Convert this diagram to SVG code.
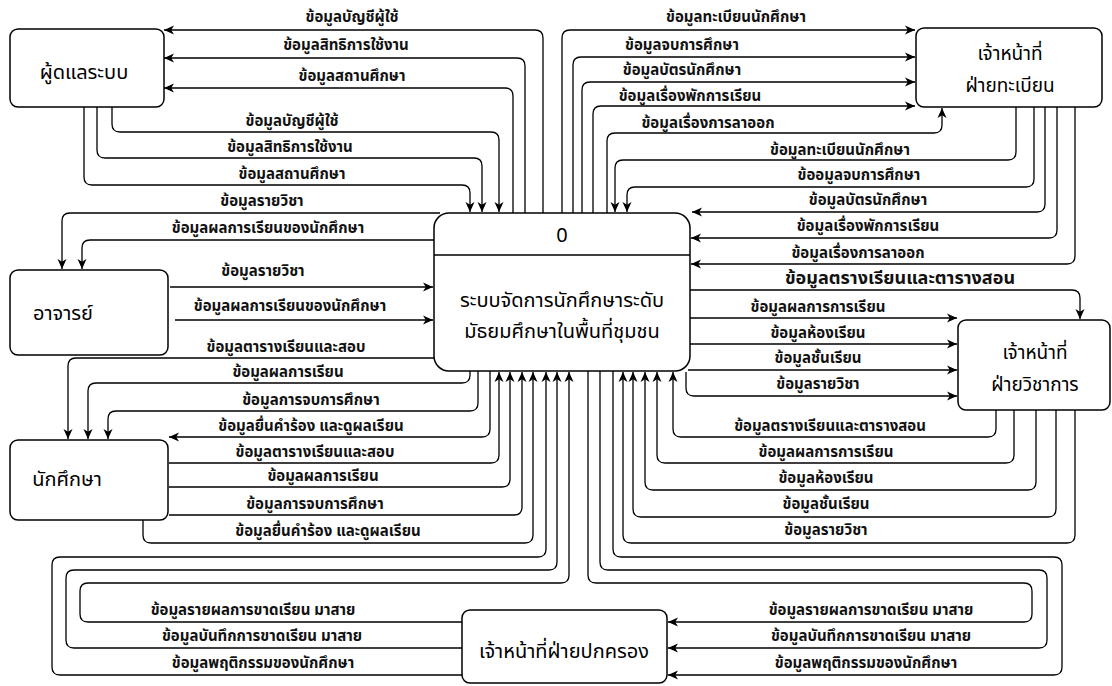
<svg xmlns="http://www.w3.org/2000/svg" width="1112" height="686" viewBox="0 0 1112 686">
<defs>
<marker id="ar" markerUnits="userSpaceOnUse" markerWidth="11" markerHeight="11" refX="10" refY="5.5" orient="auto">
<path d="M0,1 L10,5.5 L0,10 L2.8,5.5 z" fill="#000"/>
</marker>
<style>
.box{fill:#fff;stroke:#000;stroke-width:1.5}
.ln{fill:none;stroke:#000;stroke-width:1.3}
.ah{marker-end:url(#ar)}
.lbl{font-family:"Noto Sans Thai","Noto Sans","DejaVu Sans",sans-serif;font-size:15px;font-weight:bold;text-anchor:middle;fill:#111}
.big{font-size:18px}
.nt{font-family:"Noto Sans Thai","Noto Sans","DejaVu Sans",sans-serif;font-size:20px;text-anchor:middle;fill:#000}
.nt2{font-size:19px}
</style>
</defs>
<rect width="1112" height="686" fill="#fff"/>

<g id="connectors">
<path class="ln ah" d="M543,213 V38 Q543,30 535,30 H164"/>
<path class="ln ah" d="M525,213 V66 Q525,58 517,58 H164"/>
<path class="ln ah" d="M513,213 V96 Q513,88 505,88 H164"/>
<path class="ln ah" d="M112,107 V124 Q112,132 120,132 H491 Q499,132 499,140 V212"/>
<path class="ln ah" d="M97,107 V150 Q97,158 105,158 H474 Q482,158 482,166 V212"/>
<path class="ln ah" d="M84,107 V177 Q84,185 92,185 H462 Q470,185 470,193 V212"/>
<path class="ln ah" d="M440,213 H70 Q62,213 62,221 V269"/>
<path class="ln ah" d="M434,240 H90 Q82,240 82,248 V269"/>
<path class="ln ah" d="M170,287 H433"/>
<path class="ln ah" d="M175,320 H433"/>
<path class="ln ah" d="M434,358 H76 Q68,358 68,366 V439"/>
<path class="ln ah" d="M470,371 V375 Q470,383 462,383 H96 Q88,383 88,391 V439"/>
<path class="ln ah" d="M478,371 V403 Q478,411 470,411 H116 Q108,411 108,419 V439"/>
<path class="ln ah" d="M490,371 V429 Q490,437 482,437 H169"/>
<path class="ln ah" d="M169,463 H491 Q499,463 499,455 V372"/>
<path class="ln ah" d="M169,487 H502 Q510,487 510,479 V372"/>
<path class="ln ah" d="M169,515 H514 Q522,515 522,507 V372"/>
<path class="ln ah" d="M143,520 V535 Q143,543 151,543 H525 Q533,543 533,535 V372"/>
<path class="ln ah" d="M462,622 H88 Q80,622 80,614 V591 Q80,583 88,583 H561 Q569,583 569,575 V372"/>
<path class="ln ah" d="M462,648 H74 Q66,648 66,640 V578 Q66,570 74,570 H549 Q557,570 557,562 V372"/>
<path class="ln ah" d="M462,675 H60 Q52,675 52,667 V565 Q52,557 60,557 H538 Q546,557 546,549 V372"/>
<path class="ln ah" d="M588,371 V575 Q588,583 596,583 H1024 Q1032,583 1032,591 V614 Q1032,622 1024,622 H668"/>
<path class="ln ah" d="M600,371 V562 Q600,570 608,570 H1039 Q1047,570 1047,578 V640 Q1047,648 1039,648 H668"/>
<path class="ln ah" d="M613,371 V549 Q613,557 621,557 H1054 Q1062,557 1062,565 V667 Q1062,675 1054,675 H668"/>
<path class="ln ah" d="M996,410 V429 Q996,437 988,437 H681 Q673,437 673,429 V372"/>
<path class="ln ah" d="M1014,410 V455 Q1014,463 1006,463 H665 Q657,463 657,455 V372"/>
<path class="ln ah" d="M1036,410 V482 Q1036,490 1028,490 H653 Q645,490 645,482 V372"/>
<path class="ln ah" d="M1056,410 V509 Q1056,517 1048,517 H641 Q633,517 633,509 V372"/>
<path class="ln ah" d="M1075,410 V535 Q1075,543 1067,543 H631 Q623,543 623,535 V372"/>
<path class="ln ah" d="M690,290 H1072 Q1080,290 1080,298 V319"/>
<path class="ln ah" d="M690,318 H957"/>
<path class="ln ah" d="M690,344 H957"/>
<path class="ln ah" d="M688,370 H957"/>
<path class="ln ah" d="M686,372 V388 Q686,396 694,396 H957"/>
<path class="ln ah" d="M562,213 V38 Q562,30 570,30 H915"/>
<path class="ln ah" d="M573,213 V65 Q573,57 581,57 H915"/>
<path class="ln ah" d="M582,213 V90 Q582,82 590,82 H915"/>
<path class="ln ah" d="M593,213 V114 Q593,106 601,106 H915"/>
<path class="ln ah" d="M607,213 V141 Q607,133 615,133 H934 Q942,133 942,125 V108"/>
<path class="ln ah" d="M1016,107 V152 Q1016,160 1008,160 H623 Q615,160 615,168 V212"/>
<path class="ln ah" d="M1034,107 V179 Q1034,187 1026,187 H635 Q627,187 627,195 V212"/>
<path class="ln ah" d="M1045,107 V204 Q1045,212 1037,212 H692"/>
<path class="ln ah" d="M1057,107 V230 Q1057,238 1049,238 H691"/>
<path class="ln ah" d="M1075,107 V256 Q1075,264 1067,264 H691"/>
</g>

<g id="labels">
<text class="lbl" x="352" y="22">ข้อมูลบัญชีผู้ใช้</text>
<text class="lbl" x="346" y="50">ข้อมูลสิทธิการใช้งาน</text>
<text class="lbl" x="352" y="81">ข้อมูลสถานศึกษา</text>
<text class="lbl" x="292" y="126">ข้อมูลบัญชีผู้ใช้</text>
<text class="lbl" x="290" y="152">ข้อมูลสิทธิการใช้งาน</text>
<text class="lbl" x="292" y="179">ข้อมูลสถานศึกษา</text>
<text class="lbl" x="262" y="206">ข้อมูลรายวิชา</text>
<text class="lbl" x="268" y="233">ข้อมูลผลการเรียนของนักศึกษา</text>
<text class="lbl" x="263" y="276">ข้อมูลรายวิชา</text>
<text class="lbl" x="290" y="311">ข้อมูลผลการเรียนของนักศึกษา</text>
<text class="lbl" x="286" y="352">ข้อมูลตารางเรียนและสอบ</text>
<text class="lbl" x="288" y="377">ข้อมูลผลการเรียน</text>
<text class="lbl" x="311" y="405">ข้อมูลการจบการศึกษา</text>
<text class="lbl" x="311" y="431">ข้อมูลยื่นคำร้อง และดูผลเรียน</text>
<text class="lbl" x="315" y="457">ข้อมูลตารางเรียนและสอบ</text>
<text class="lbl" x="323" y="481">ข้อมูลผลการเรียน</text>
<text class="lbl" x="315" y="509">ข้อมูลการจบการศึกษา</text>
<text class="lbl" x="328" y="536">ข้อมูลยื่นคำร้อง และดูผลเรียน</text>
<text class="lbl" x="253" y="615">ข้อมูลรายผลการขาดเรียน มาสาย</text>
<text class="lbl" x="262" y="641">ข้อมูลบันทึกการขาดเรียน มาสาย</text>
<text class="lbl" x="263" y="668">ข้อมูลพฤติกรรมของนักศึกษา</text>
<text class="lbl" x="871" y="615">ข้อมูลรายผลการขาดเรียน มาสาย</text>
<text class="lbl" x="871" y="641">ข้อมูลบันทึกการขาดเรียน มาสาย</text>
<text class="lbl" x="866" y="668">ข้อมูลพฤติกรรมของนักศึกษา</text>
<text class="lbl" x="736" y="22">ข้อมูลทะเบียนนักศึกษา</text>
<text class="lbl" x="682" y="50">ข้อมูลจบการศึกษา</text>
<text class="lbl" x="682" y="75">ข้อมูลบัตรนักศึกษา</text>
<text class="lbl" x="690" y="101">ข้อมูลเรื่องพักการเรียน</text>
<text class="lbl" x="708" y="128">ข้อมูลเรื่องการลาออก</text>
<text class="lbl" x="840" y="155">ข้อมูลทะเบียนนักศึกษา</text>
<text class="lbl" x="859" y="180">ข้ออมูลจบการศึกษา</text>
<text class="lbl" x="868" y="205">ข้อมูลบัตรนักศึกษา</text>
<text class="lbl" x="868" y="231">ข้อมูลเรื่องพักการเรียน</text>
<text class="lbl" x="858" y="258">ข้อมูลเรื่องการลาออก</text>
<text class="lbl big" x="900" y="284">ข้อมูลตรางเรียนและตารางสอน</text>
<text class="lbl" x="818" y="312">ข้อมูลผลการการเรียน</text>
<text class="lbl" x="818" y="338">ข้อมูลห้องเรียน</text>
<text class="lbl" x="818" y="363">ข้อมูลชั้นเรียน</text>
<text class="lbl" x="818" y="389">ข้อมูลรายวิชา</text>
<text class="lbl" x="830" y="431">ข้อมูลตรางเรียนและตารางสอน</text>
<text class="lbl" x="826" y="457">ข้อมูลผลการการเรียน</text>
<text class="lbl" x="826" y="483">ข้อมูลห้องเรียน</text>
<text class="lbl" x="826" y="509">ข้อมูลชั้นเรียน</text>
<text class="lbl" x="826" y="535">ข้อมูลรายวิชา</text>
</g>

<g id="node-admin">
<rect class="box" x="10" y="29" width="154" height="78" rx="8"/>
<text class="nt" x="84" y="79">ผู้ดแลระบบ</text>
</g>
<g id="node-registrar">
<rect class="box" x="916" y="28" width="186" height="79" rx="8"/>
<text class="nt nt2" x="1010" y="60">เจ้าหน้าที่</text>
<text class="nt nt2" x="1010" y="92">ฝ่ายทะเบียน</text>
</g>
<g id="node-process">
<rect class="box" x="434" y="213" width="256" height="158" rx="15"/>
<line class="ln" x1="434" y1="255" x2="690" y2="255" stroke-width="1.5"/>
<text class="nt" x="562" y="242" font-size="17">0</text>
<text class="nt" x="562" y="307">ระบบจัดการนักศึกษาระดับ</text>
<text class="nt" x="562" y="338">มัธยมศึกษาในพื้นที่ชุมชน</text>
</g>
<g id="node-teacher">
<rect class="box" x="10" y="270" width="158" height="85" rx="8"/>
<text class="nt" x="63" y="320">อาจารย์</text>
</g>
<g id="node-student">
<rect class="box" x="10" y="440" width="158" height="80" rx="8"/>
<text class="nt" x="67" y="486">นักศึกษา</text>
</g>
<g id="node-academic">
<rect class="box" x="958" y="320" width="152" height="90" rx="8"/>
<text class="nt nt2" x="1035" y="359">เจ้าหน้าที่</text>
<text class="nt nt2" x="1035" y="391">ฝ่ายวิชาการ</text>
</g>
<g id="node-discipline">
<rect class="box" x="462" y="610" width="205" height="73" rx="8"/>
<text class="nt" x="564" y="658">เจ้าหน้าที่ฝ่ายปกครอง</text>
</g>
</svg>
